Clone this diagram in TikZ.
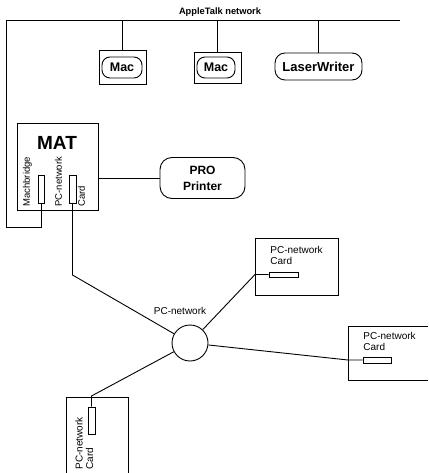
\documentclass[tikz,border=0pt]{standalone}
\usepackage{fontspec}
\setmainfont{Liberation Sans}
\begin{document}
\begin{tikzpicture}[x=1pt,y=-1pt,line width=0.9pt,
  box/.style={draw,inner sep=0pt,minimum width=#1},
  rbox/.style={draw,rounded corners=9pt,inner sep=0pt,minimum width=#1},
  slotbox/.style={draw,line width=0.8pt,inner sep=0pt},
  lbl/.style={font=\fontsize{10}{11}\selectfont,inner sep=0pt,align=left},
  rlbl/.style={font=\fontsize{9.5}{11}\selectfont,inner sep=0pt,rotate=90,anchor=west},
  bigbold/.style={font=\fontsize{#1}{#1}\selectfont\bfseries,inner sep=0pt}]
\useasboundingbox (0,0) rectangle (428,473);
% AppleTalk network
\node[bigbold=9.3] (atlabel) at (220,12) {AppleTalk network};
\coordinate (atL) at (6,20);
\coordinate (atR) at (400,20);
\coordinate (lb) at (6,227);
% Macs and LaserWriter
\node[box=47pt,minimum height=34pt] (mac1box) at (122.5,67) {};
\node[rbox=40pt,minimum height=21pt,rounded corners=8pt,bigbold=12.5] (mac1) at (122,67.5) {Mac};
\node[box=47pt,minimum height=31pt] (mac2box) at (217.5,67.5) {};
\node[rbox=38pt,minimum height=21pt,rounded corners=8pt,bigbold=12.5] (mac2) at (216,67.5) {Mac};
\node[rbox=87pt,minimum height=27pt,rounded corners=10pt,bigbold=13] (lw) at (318.5,66.5) {LaserWriter};
% MAT
\node[box=81pt,minimum height=87pt] (mat) at (57.5,166.5) {};
\node[bigbold=19] (matlabel) at (57,143) {MAT};
\node[slotbox,minimum width=6pt,minimum height=28pt] (slot1) at (41,189) {};
\node[slotbox,minimum width=7pt,minimum height=28pt] (slot2) at (72.5,189) {};
\node[rlbl] (machbridge) at (27.5,207) {Machbridge};
\node[rlbl] (pcnet1) at (58.5,207) {PC-network};
\node[rlbl] (card1) at (81.5,207) {Card};
% PRO Printer
\node[draw,rounded corners=12pt,minimum width=85pt,minimum height=41pt,inner sep=0pt,align=center,font=\fontsize{12}{16}\selectfont\bfseries] (pro) at (202.5,178) {PRO\\Printer};
% hub
\node[draw,circle,minimum size=36pt,inner sep=0pt] (hub) at (190,343) {};
\node[lbl] (hublabel) at (180,311) {PC-network};
% right card 1
\node[box=83pt,minimum height=57pt] (r1) at (296.5,266.5) {};
\node[lbl,anchor=north west] (r1text) at (270,246) {PC-network\\Card};
\node[slotbox,minimum width=29pt,minimum height=5pt] (r1slot) at (283.5,274.5) {};
\coordinate (r1in) at (255,274.5);
% right card 2 (runs off the page)
\coordinate (r2a) at (428,326);
\coordinate (r2b) at (348,326);
\coordinate (r2c) at (348,380);
\coordinate (r2d) at (428,380);
\node[lbl,anchor=north west] (r2text) at (363,332) {PC-network\\Card};
\node[slotbox,minimum width=28pt,minimum height=6pt] (r2slot) at (377,360) {};
\coordinate (r2in) at (348,360);
% bottom card (runs off the page)
\coordinate (b1) at (66,473);
\coordinate (b2) at (66,397);
\coordinate (b3) at (128,397);
\coordinate (b4) at (128,473);
\node[slotbox,minimum width=7pt,minimum height=27pt] (bslot) at (91.5,420.5) {};
\node[rlbl,font=\fontsize{10}{11}\selectfont] (bpc) at (79,470) {PC-network};
\node[rlbl,font=\fontsize{10}{11}\selectfont] (bcard) at (89.5,470) {Card};
\coordinate (bin) at (91.5,396);
\coordinate (mdown) at (72.5,275);
% connectors
\draw (atR) -- (atL) -- (lb) -| (slot1.south);
\draw (mac1box.north) -- (mac1box.north |- atL);
\draw (mac2box.north) -- (mac2box.north |- atL);
\draw (lw.north) -- (lw.north |- atL);
\draw (pro.west -| mat.east) -- (pro.west);
\draw (slot2.south) -- (mdown) -- (hub);
\draw (r1slot.west) -- (r1in) -- (hub);
\draw (hub) -- (r2in) -- (r2slot.west);
\draw (bslot.north) -- (bin) -- (hub);
\draw (r2a) -- (r2b) -- (r2c) -- (r2d);
\draw (b1) -- (b2) -- (b3) -- (b4);
\end{tikzpicture}
\end{document}
